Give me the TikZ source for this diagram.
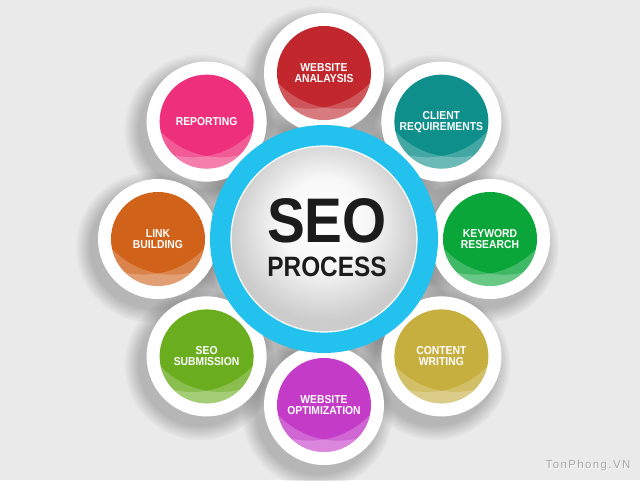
\documentclass[tikz,border=0pt]{standalone}
\usepackage{fontspec}
\setmainfont{Liberation Sans}
\newfontfamily\wmfont[LetterSpace=12]{Liberation Sans}
\usetikzlibrary{fadings,calc}
\definecolor{bg}{HTML}{EAEAEA}
\definecolor{cRed}{HTML}{C1272D}
\definecolor{cTeal}{HTML}{0F8F8B}
\definecolor{cKw}{HTML}{0AA63A}
\definecolor{cGold}{HTML}{C6AF3E}
\definecolor{cMag}{HTML}{C43BC8}
\definecolor{cLime}{HTML}{6AAE1F}
\definecolor{cOrange}{HTML}{D0621A}
\definecolor{cPink}{HTML}{EE2F7B}
\definecolor{cRing}{HTML}{22C1EE}
\definecolor{cText}{HTML}{1C1C1C}
\definecolor{wmgray}{HTML}{A6A6A6}
\pgfdeclareradialshading{coreshade}{\pgfpoint{0bp}{6bp}}{color(0bp)=(white); color(12bp)=(white!97!black); color(25bp)=(white!80!black); color(50bp)=(white!80!black)}
\tikzset{
  softshadow/.style={black, opacity=0.22, path fading=circle with fuzzy edge 20 percent},
  outerdisc/.style={circle, fill=white, minimum size=120pt, inner sep=0pt},
  innerdisc/.style={circle, minimum size=94pt, inner sep=0pt},
  lens/.style={white, opacity=0.22, even odd rule},
  satlabel/.style={text=white, font=\bfseries\fontsize{11.5}{11}\selectfont, align=center, inner sep=0pt, xscale=0.9, transform shape},
}
\newcommand\satnode[4]{%
  \node[outerdisc] (#1o) at ($(centre)+(#2:166)$) {};
  \node[innerdisc, fill=#3] (#1) at (#1o.center) {};
  \begin{scope}
    \clip (#1.center) circle (47);
    \fill[lens] ($(#1.center)+(-50,-50)$) rectangle ($(#1.center)+(50,50)$) ($(#1.center)+(14.1,47)$) circle (82.7);
    \fill[lens] ($(#1.center)+(-50,-50)$) rectangle ($(#1.center)+(50,50)$) ($(#1.center)+(-14.1,47)$) circle (82.7);
  \end{scope}
  \node[satlabel] (#1t) at (#1.center) {#4};
}
\begin{document}
\begin{tikzpicture}[x=1pt,y=1pt]
\useasboundingbox (0,0) rectangle (640,480);
\fill[bg] (0,0) rectangle (640,480);
\coordinate (centre) at (324,241);

\foreach \a in {90,45,0,-45,-90,-135,180,135}
  \fill[softshadow] ($(centre)+(\a:166)+(-7,-8)$) circle (76);
\fill[softshadow] ($(centre)+(-6,-7)$) circle (138);

\satnode{wa}{90}{cRed}{WEBSITE\\ANALAYSIS}
\satnode{cr}{45}{cTeal}{CLIENT\\REQUIREMENTS}
\satnode{kr}{0}{cKw}{KEYWORD\\RESEARCH}
\satnode{cw}{-45}{cGold}{CONTENT\\WRITING}
\satnode{wo}{-90}{cMag}{WEBSITE\\OPTIMIZATION}
\satnode{ss}{-135}{cLime}{SEO\\SUBMISSION}
\satnode{lb}{180}{cOrange}{LINK\\BUILDING}
\satnode{rp}{135}{cPink}{REPORTING}

\node[circle, fill=cRing, minimum size=228pt, inner sep=0pt] (ring) at (centre) {};
\node[circle, minimum size=186pt, inner sep=0pt, shading=coreshade, draw=white, line width=1.2pt] (core) at (centre) {};

\node[text=cText, font=\bfseries\fontsize{63}{63}\selectfont, inner sep=0pt, xscale=0.9, transform shape] (seo) at (327,259.5) {SEO};
\node[text=cText, font=\bfseries\fontsize{28}{28}\selectfont, inner sep=0pt, xscale=0.87, transform shape] (proc) at (327,213) {PROCESS};

\node[text=white, font=\wmfont\fontsize{11.5}{12}\selectfont, inner sep=0pt] (wmglow) at (588.7,13.3) {TonPhong.VN};
\node[text=wmgray, font=\wmfont\fontsize{11.5}{12}\selectfont, inner sep=0pt] (wm) at (588,14) {TonPhong.VN};
\end{tikzpicture}
\end{document}
